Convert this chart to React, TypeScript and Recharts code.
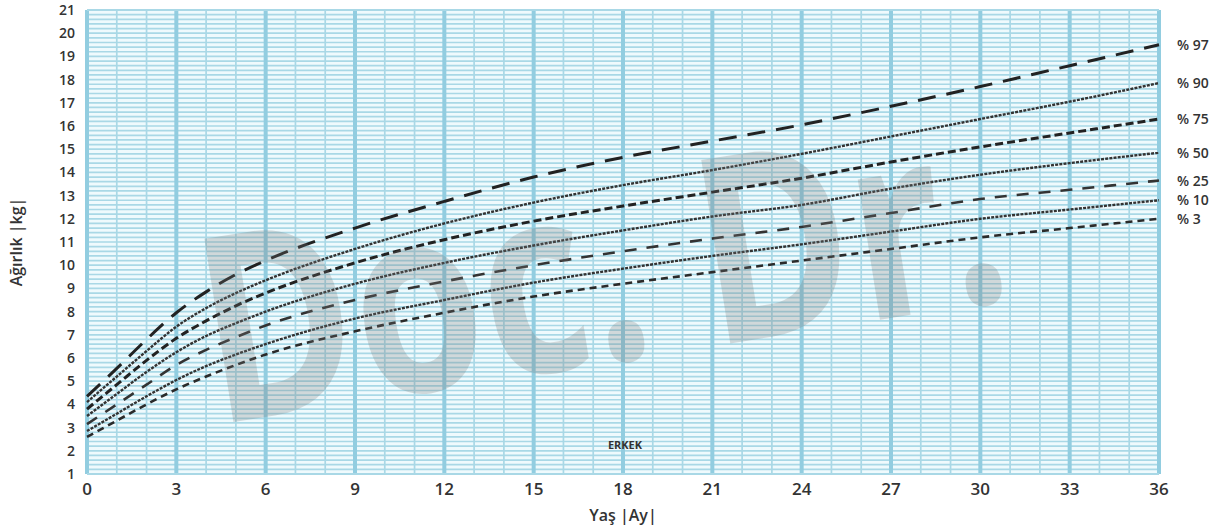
import React from "react";
import {
	LineChart,
	Line,
	XAxis,
	YAxis,
	CartesianGrid,
	ReferenceLine,
} from "recharts";

// age in months, weight in kg
const months = [0, 1, 2, 3, 4, 5, 6, 9, 12, 15, 18, 21, 24, 27, 30, 33, 36];
const p97 = [4.35, 5.55, 6.8, 7.95, 8.85, 9.6, 10.2, 11.6, 12.75, 13.8, 14.65, 15.35, 16.05, 16.85, 17.7, 18.6, 19.5];
const p90 = [4.1, 5.2, 6.3, 7.35, 8.15, 8.8, 9.35, 10.7, 11.8, 12.7, 13.45, 14.1, 14.8, 15.55, 16.3, 17.05, 17.85];
const p75 = [3.8, 4.85, 5.9, 6.85, 7.6, 8.25, 8.8, 10.1, 11.1, 11.9, 12.55, 13.15, 13.75, 14.45, 15.1, 15.7, 16.3];
const p50 = [3.5, 4.45, 5.4, 6.25, 6.95, 7.5, 8.0, 9.2, 10.1, 10.85, 11.5, 12.1, 12.6, 13.3, 13.9, 14.4, 14.85];
const p25 = [3.15, 4.0, 4.85, 5.7, 6.35, 6.9, 7.4, 8.5, 9.3, 10.0, 10.6, 11.15, 11.65, 12.25, 12.85, 13.25, 13.65];
const p10 = [2.85, 3.6, 4.35, 5.05, 5.65, 6.15, 6.6, 7.7, 8.5, 9.25, 9.85, 10.4, 10.9, 11.45, 12.0, 12.4, 12.8];
const p3 = [2.6, 3.3, 4.0, 4.65, 5.2, 5.7, 6.15, 7.15, 7.95, 8.65, 9.2, 9.7, 10.2, 10.7, 11.2, 11.6, 12.0];

const xTicks = [0, 3, 6, 9, 12, 15, 18, 21, 24, 27, 30, 33, 36];
const yTicks = [1, 2, 3, 4, 5, 6, 7, 8, 9, 10, 11, 12, 13, 14, 15, 16, 17, 18, 19, 20, 21];
const monthLines = Array.from({ length: 37 }, (_, i) => i);
const kgLines = Array.from({ length: 101 }, (_, i) => 1 + i * 0.2);

const data = months.map((m, i) => ({
	month: m,
	p97: p97[i],
	p90: p90[i],
	p75: p75[i],
	p50: p50[i],
	p25: p25[i],
	p10: p10[i],
	p3: p3[i],
}));

const FONT = "'Open Sans', sans-serif";

const endLabel = (text: string) => (props: any) => {
	if (props.index !== months.length - 1) return null;
	return (
		<text
			x={props.x + 18}
			y={props.y}
			dy={5}
			fontSize={14}
			fontFamily={FONT}
			fontWeight={600}
			fill="#333"
		>
			{text}
		</text>
	);
};

const series = [
	{ key: "p97", name: "% 97", dash: "18 11", width: 3, color: "#222" },
	{ key: "p90", name: "% 90", dash: "3 1.2", width: 2.4, color: "#333" },
	{ key: "p75", name: "% 75", dash: "8 4", width: 3, color: "#222" },
	{ key: "p50", name: "% 50", dash: "3 1.2", width: 2.4, color: "#333" },
	{ key: "p25", name: "% 25", dash: "12 10", width: 2.6, color: "#333" },
	{ key: "p10", name: "% 10", dash: "3 1.2", width: 2.4, color: "#333" },
	{ key: "p3", name: "% 3", dash: "7 5", width: 2.6, color: "#2a2a2a" },
];

export default function App() {
	return (
		<div style={{ position: "absolute", left: 0, top: 0, width: 1222, height: 527 }}>
			<LineChart
				width={1222}
				height={527}
				data={data}
				margin={{ top: 10, right: 63, bottom: 13, left: 27 }}
			>
				<CartesianGrid
					fill="#effafd"
					fillOpacity={1}
					stroke="#a9d8e6"
					strokeWidth={1.7}
					horizontalValues={kgLines}
					verticalValues={monthLines}
				/>
				{xTicks.map((m) => (
					<ReferenceLine key={"v" + m} x={m} stroke="#92cde0" strokeWidth={4} />
				))}
				<ReferenceLine y={21} stroke="#a9d8e6" strokeWidth={2} />
				<ReferenceLine y={1} stroke="#a9d8e6" strokeWidth={2} />
				<XAxis
					dataKey="month"
					type="number"
					domain={[0, 36]}
					ticks={xTicks}
					axisLine={false}
					tickLine={false}
					tickSize={0}
					tickMargin={9}
					height={40}
					tick={{ fontSize: 17, fontFamily: FONT, fontWeight: 600, fill: "#333" }}
					label={(props: any) => (
						<text
							x={props.viewBox.x + props.viewBox.width / 2}
							y={props.viewBox.y + 47}
							textAnchor="middle"
							fontSize={16}
							fontFamily={FONT}
							fontWeight={600}
							fill="#333"
						>
							Yaş |Ay|
						</text>
					)}
				/>
				<YAxis
					type="number"
					domain={[1, 21]}
					ticks={yTicks}
					interval={0}
					axisLine={false}
					tickLine={false}
					tickSize={0}
					tickMargin={12}
					width={60}
					tick={{ fontSize: 14, fontFamily: FONT, fontWeight: 600, fill: "#333" }}
					label={(props: any) => (
						<text
							x={22}
							y={props.viewBox.y + props.viewBox.height / 2}
							textAnchor="middle"
							transform={`rotate(-90 22 ${props.viewBox.y + props.viewBox.height / 2})`}
							fontSize={16}
							fontFamily={FONT}
							fontWeight={600}
							fill="#333"
						>
							Ağırlık |kg|
						</text>
					)}
				/>
				{series.map((s) => (
					<Line
						key={s.key}
						type="monotone"
						dataKey={s.key}
						stroke={s.color}
						strokeWidth={s.width}
						strokeDasharray={s.dash}
						dot={false}
						activeDot={false}
						isAnimationActive={false}
						label={endLabel(s.name)}
					/>
				))}
			</LineChart>
			<svg
				width={1222}
				height={527}
				style={{ position: "absolute", left: 0, top: 0, pointerEvents: "none" }}
			>
				<text
					x={625}
					y={449}
					textAnchor="middle"
					fontSize={11}
					fontFamily={FONT}
					fontWeight={700}
					fill="#333"
				>
					ERKEK
				</text>
				<text
					transform="translate(215 425) rotate(-9) scale(0.8 1)"
					fontSize={260}
					fontFamily={FONT}
					fontWeight={700}
					fill="#777"
					opacity={0.25}
				>
					Doc. Dr.
				</text>
			</svg>
		</div>
	);
}
